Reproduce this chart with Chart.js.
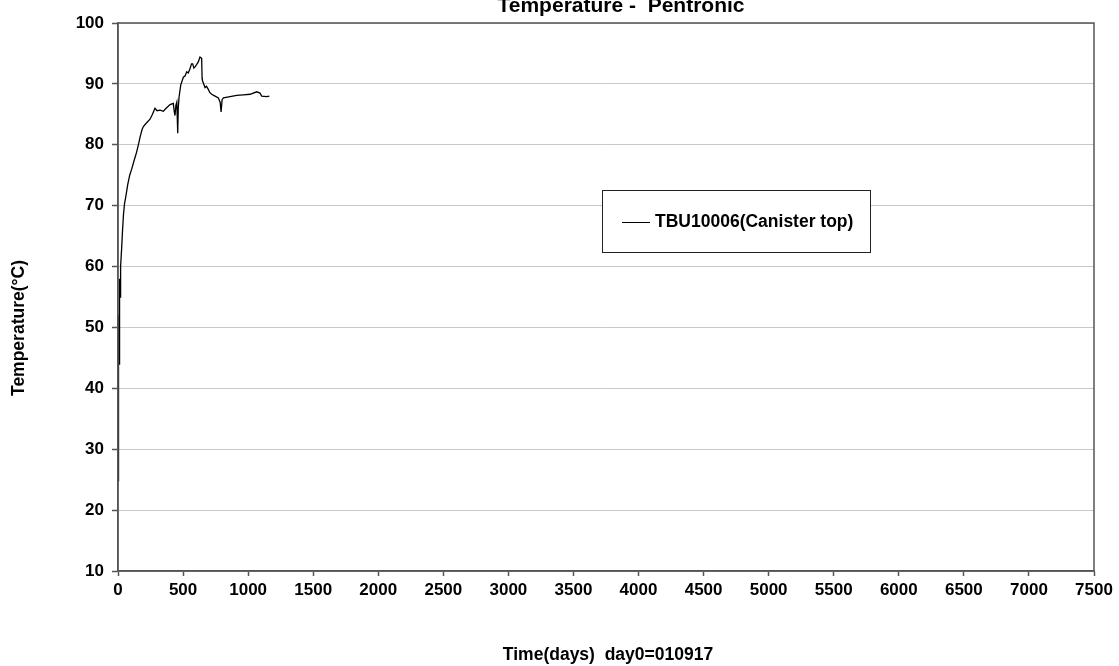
<!DOCTYPE html>
<html lang="en">
<head>
  <meta charset="UTF-8">
  <title>Temperature - Pentronic</title>
  <script src="https://cdn.jsdelivr.net/npm/chart.js"></script>
  <style>
    body { margin: 0; padding: 0; background: #fff; }
    .chart-container { position: relative; width: 1119px; height: 666px; }
  </style>
</head>
<body>
  <div class="chart-container">
    <canvas id="tempChart"></canvas>
  </div>
  <script>
    // values
    const chartTitle = 'Temperature -  Pentronic';
    const xTitle = 'Time(days)  day0=010917';
    const yTitle = 'Temperature(°C)';
    const seriesLabel = 'TBU10006(Canister top)';

    const days = [0, 1, 2, 3, 4, 5, 6, 7, 8, 9, 10, 11, 12, 13, 14, 15, 16, 18, 22, 28, 35, 42, 50, 60, 75, 90, 105, 125, 143, 160, 170, 185, 195, 215, 246, 265, 284, 300, 323, 348, 370, 400, 425, 432, 438, 445, 452, 459, 463, 469, 482, 502, 515, 528, 540, 553, 565, 574, 583, 592, 605, 617, 630, 643, 646, 648, 655, 669, 680, 694, 705, 720, 746, 771, 785, 792, 800, 810, 861, 912, 963, 1015, 1066, 1091, 1104, 1143, 1163];
    const temps = [24.8, 40, 27, 46, 31, 50, 38, 52, 44, 53, 53, 57.5, 52.5, 58, 53, 57.5, 55, 58.5, 60, 63, 66, 68.5, 70.3, 71.5, 73.5, 75, 76, 77.5, 78.8, 80.3, 81.3, 82.5, 83, 83.5, 84.2, 85, 86, 85.6, 85.7, 85.5, 86, 86.6, 86.8, 85.5, 84.8, 86.5, 87, 81.9, 86, 87.8, 89.8, 91.1, 91.3, 92, 91.8, 92.5, 93.3, 93.3, 92.6, 92.8, 93.2, 93.6, 94.4, 94.2, 91, 90.6, 90.2, 89.4, 89.6, 89.1, 88.6, 88.3, 88, 87.7, 87, 85.4, 87.4, 87.7, 87.9, 88.1, 88.2, 88.3, 88.7, 88.5, 88, 87.9, 88];

    const xTicks = [0, 500, 1000, 1500, 2000, 2500, 3000, 3500, 4000, 4500, 5000, 5500, 6000, 6500, 7000, 7500];
    const yTicks = [10, 20, 30, 40, 50, 60, 70, 80, 90, 100];

    const font = 'Liberation Sans, Arial, sans-serif';

    // frame, titles and legend box
    const decorPlugin = {
      id: 'decor',
      afterDraw(chart) {
        const { ctx, chartArea: a } = chart;
        ctx.save();
        ctx.strokeStyle = '#555';
        ctx.lineWidth = 1.5;
        ctx.strokeRect(a.left, a.top, a.right - a.left, a.bottom - a.top);

        ctx.fillStyle = '#000';
        ctx.textAlign = 'center';
        ctx.font = 'bold 21px ' + font;
        ctx.textBaseline = 'alphabetic';
        ctx.fillText(chartTitle, 621, 12);

        ctx.font = 'bold 17.5px ' + font;
        ctx.textBaseline = 'middle';
        ctx.fillText(xTitle, 608, 655);

        ctx.translate(19, 328);
        ctx.rotate(-Math.PI / 2);
        ctx.fillText(yTitle, 0, 0);
        ctx.restore();

        // legend
        ctx.save();
        ctx.fillStyle = '#fff';
        ctx.fillRect(602, 190, 268, 62);
        ctx.strokeStyle = '#222';
        ctx.lineWidth = 1;
        ctx.strokeRect(602.5, 190.5, 268, 62);
        ctx.strokeStyle = '#000';
        ctx.beginPath();
        ctx.moveTo(622, 222.5);
        ctx.lineTo(650, 222.5);
        ctx.stroke();
        ctx.fillStyle = '#000';
        ctx.font = 'bold 17.5px ' + font;
        ctx.textAlign = 'left';
        ctx.textBaseline = 'middle';
        ctx.fillText(chart.data.datasets[0].label, 655, 222);
        ctx.restore();
      }
    };

    new Chart(document.getElementById('tempChart'), {
      type: 'line',
      data: {
        datasets: [{
          label: seriesLabel,
          data: days.map((d, i) => ({ x: d, y: temps[i] })),
          borderColor: '#000',
          borderWidth: 1.3,
          pointRadius: 0,
          tension: 0,
          fill: false
        }]
      },
      options: {
        responsive: true,
        maintainAspectRatio: false,
        animation: false,
        layout: { padding: { top: 23, right: 25, bottom: 0, left: 0 } },
        plugins: { legend: { display: false }, tooltip: { enabled: false } },
        scales: {
          x: {
            type: 'linear',
            min: 0, max: 7500,
            afterBuildTicks: s => { s.ticks = xTicks.map(v => ({ value: v })); },
            afterFit: s => { s.height = 95; },
            grid: { drawOnChartArea: false, drawTicks: true, tickLength: 5, tickColor: '#555', tickWidth: 1.5 },
            border: { color: '#555', width: 1.5 },
            ticks: { color: '#000', padding: 4, maxRotation: 0, callback: v => String(v), font: { family: font, size: 17, weight: 'bold' } }
          },
          y: {
            min: 10, max: 100,
            afterBuildTicks: s => { s.ticks = yTicks.map(v => ({ value: v })); },
            afterFit: s => { s.width = 118; },
            grid: { color: '#c8c8c8', lineWidth: 1, drawTicks: true, tickLength: 6, tickColor: '#555', tickWidth: 1.5 },
            border: { color: '#555', width: 1.5 },
            ticks: { color: '#000', padding: 8, callback: v => String(v), font: { family: font, size: 17, weight: 'bold' } }
          }
        }
      },
      plugins: [decorPlugin]
    });
  </script>
</body>
</html>
